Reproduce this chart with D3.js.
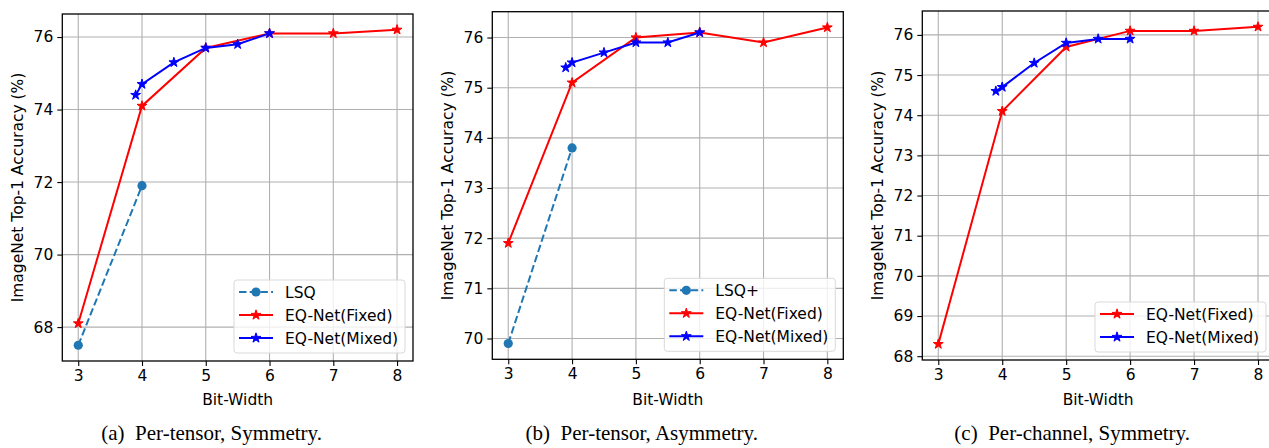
<!DOCTYPE html>
<html>
<head>
<meta charset="utf-8">
<script src="https://cdn.jsdelivr.net/npm/d3@7"></script>
<style>
  body { margin: 0; background: #fff; }
  svg { display: block; }
</style>
</head>
<body>
<svg id="chart" width="1269" height="448"></svg>
<script>
// ---- data ----
const xTicks = [3, 4, 5, 6, 7, 8];
const bitsFixed = [3, 4, 5, 6, 7, 8];
const bitsMixed = [3.9, 4, 4.5, 5, 5.5, 6];
const bitsLsq = [3, 4];

const lsqA = [67.5, 71.9];
const fixedA = [68.1, 74.1, 75.7, 76.1, 76.1, 76.2];
const mixedA = [74.4, 74.7, 75.3, 75.7, 75.8, 76.1];
const yTicksA = [68, 70, 72, 74, 76];

const lsqB = [69.9, 73.8];
const fixedB = [71.9, 75.1, 76.0, 76.1, 75.9, 76.2];
const mixedB = [75.4, 75.5, 75.7, 75.9, 75.9, 76.1];
const yTicksB = [70, 71, 72, 73, 74, 75, 76];

const fixedC = [68.3, 74.1, 75.7, 76.1, 76.1, 76.2];
const mixedC = [74.6, 74.7, 75.3, 75.8, 75.9, 75.9];
const yTicksC = [68, 69, 70, 71, 72, 73, 74, 75, 76];

const captions = ["(a)\u2002Per-tensor, Symmetry.", "(b)\u2002Per-tensor, Asymmetry.", "(c)\u2002Per-channel, Symmetry."];
const lsqNames = ["LSQ", "LSQ+", null];

const BLUE_LSQ = "#1f77b4", RED = "#ff0000", BLUE = "#0000ff";
const FONT = "'DejaVu Sans', sans-serif";
const FS = 15.5;

const svg = d3.select("#chart");

function zip(xs, ys) { return xs.map((x, i) => ({ x: x, y: ys[i] })); }

const panels = [
  { box: [62.3, 413, 14, 361], yTicks: yTicksA, lsq: lsqA, fixed: fixedA, mixed: mixedA, ylabX: 17 },
  { box: [492.3, 843.3, 11.7, 359.3], yTicks: yTicksB, lsq: lsqB, fixed: fixedB, mixed: mixedB, ylabX: 447 },
  { box: [922.3, 1274, 11, 360], yTicks: yTicksC, lsq: null, fixed: fixedC, mixed: mixedC, ylabX: 877 }
];

panels.forEach(function(p, pi) {
  const [L, R, T, B] = p.box;
  const g = svg.append("g");

  // matplotlib-style 5% margins
  const allY = [].concat(p.fixed, p.mixed, p.lsq || []);
  const yMin = d3.min(allY), yMax = d3.max(allY);
  const yPad = (yMax - yMin) * 0.05;
  const x = d3.scaleLinear().domain([2.75, 8.25]).range([L, R]);
  const y = d3.scaleLinear().domain([yMin - yPad, yMax + yPad]).range([B, T]);

  const clipId = "clip" + pi;
  svg.append("clipPath").attr("id", clipId)
    .append("rect").attr("x", L).attr("y", T).attr("width", R - L).attr("height", B - T);

  // grid
  g.selectAll(".gx").data(xTicks).enter().append("line")
    .attr("x1", d => x(d)).attr("x2", d => x(d)).attr("y1", T).attr("y2", B)
    .attr("stroke", "#b0b0b0").attr("stroke-width", 1.1);
  g.selectAll(".gy").data(p.yTicks).enter().append("line")
    .attr("x1", L).attr("x2", R).attr("y1", d => y(d)).attr("y2", d => y(d))
    .attr("stroke", "#b0b0b0").attr("stroke-width", 1.1);

  // axes
  const xAxis = g.append("g").attr("transform", `translate(0,${B})`)
    .call(d3.axisBottom(x).tickValues(xTicks).tickSize(5).tickPadding(4).tickFormat(d3.format("d")));
  const yAxis = g.append("g").attr("transform", `translate(${L},0)`)
    .call(d3.axisLeft(y).tickValues(p.yTicks).tickSize(5).tickPadding(4).tickFormat(d3.format("d")));
  [xAxis, yAxis].forEach(a => {
    a.select(".domain").remove();
    a.selectAll("line").attr("stroke", "#000").attr("stroke-width", 1.1);
    a.selectAll("text").attr("font-size", FS).attr("fill", "#000").attr("font-family", FONT);
  });

  const plot = g.append("g").attr("clip-path", `url(#${clipId})`);
  const line = d3.line().x(d => x(d.x)).y(d => y(d.y));
  const star = d3.symbol().type(d3.symbolStar).size(30);

  function series(xs, ys, color, dashed, marker) {
    const pts = zip(xs, ys);
    plot.append("path").datum(pts).attr("d", line)
      .attr("fill", "none").attr("stroke", color).attr("stroke-width", 2)
      .attr("stroke-dasharray", dashed ? "7.5,3.2" : null);
    if (marker === "circle") {
      plot.selectAll(null).data(pts).enter().append("circle")
        .attr("cx", d => x(d.x)).attr("cy", d => y(d.y)).attr("r", 4.6).attr("fill", color);
    } else {
      plot.selectAll(null).data(pts).enter().append("path")
        .attr("d", star).attr("transform", d => `translate(${x(d.x)},${y(d.y)})`)
        .attr("fill", color).attr("stroke", color).attr("stroke-width", 1);
    }
  }

  if (p.lsq) series(bitsLsq, p.lsq, BLUE_LSQ, true, "circle");
  series(bitsFixed, p.fixed, RED, false, "star");
  series(bitsMixed, p.mixed, BLUE, false, "star");

  // frame
  g.append("rect").attr("x", L).attr("y", T).attr("width", R - L).attr("height", B - T)
    .attr("fill", "none").attr("stroke", "#000").attr("stroke-width", 1.3);

  // legend
  const entries = [];
  if (p.lsq) entries.push({ name: lsqNames[pi], color: BLUE_LSQ, dashed: true, marker: "circle" });
  entries.push({ name: "EQ-Net(Fixed)", color: RED, dashed: false, marker: "star" });
  entries.push({ name: "EQ-Net(Mixed)", color: BLUE, dashed: false, marker: "star" });
  const lw = 171, rowH = 23;
  const lh = entries.length * rowH + 4;
  const lx = R - 8 - lw, ly = B - 8 - lh;
  const leg = g.append("g");
  leg.append("rect").attr("x", lx).attr("y", ly).attr("width", lw).attr("height", lh)
    .attr("rx", 3).attr("fill", "#fff").attr("fill-opacity", 0.8)
    .attr("stroke", "#d9d9d9").attr("stroke-width", 1);
  entries.forEach(function(e, i) {
    const cy = ly + 12 + i * rowH;
    leg.append("line").attr("x1", lx + 5).attr("x2", lx + 39).attr("y1", cy).attr("y2", cy)
      .attr("stroke", e.color).attr("stroke-width", 2)
      .attr("stroke-dasharray", e.dashed ? "7.5,3.2" : null);
    if (e.marker === "circle") {
      leg.append("circle").attr("cx", lx + 22).attr("cy", cy).attr("r", 4.6).attr("fill", e.color);
    } else {
      leg.append("path").attr("d", star).attr("transform", `translate(${lx + 22},${cy})`)
        .attr("fill", e.color).attr("stroke", e.color).attr("stroke-width", 1);
    }
    leg.append("text").attr("x", lx + 51).attr("y", cy).attr("dy", "0.36em")
      .attr("font-family", FONT).attr("font-size", FS).text(e.name);
  });

  // axis labels
  g.append("text").attr("x", (L + R) / 2).attr("y", 405)
    .attr("text-anchor", "middle").attr("font-family", FONT).attr("font-size", FS)
    .text("Bit-Width");
  g.append("text")
    .attr("transform", `translate(${p.ylabX + 5.5},${(T + B) / 2}) rotate(-90)`)
    .attr("text-anchor", "middle").attr("font-family", FONT).attr("font-size", FS)
    .text("ImageNet Top-1 Accuracy (%)");

  // caption
  g.append("text").attr("x", (L + R) / 2 - 26).attr("y", 440)
    .attr("text-anchor", "middle").attr("font-family", "'Liberation Serif', 'Times New Roman', serif")
    .attr("font-size", 21).text(captions[pi]);
});
</script>
</body>
</html>
